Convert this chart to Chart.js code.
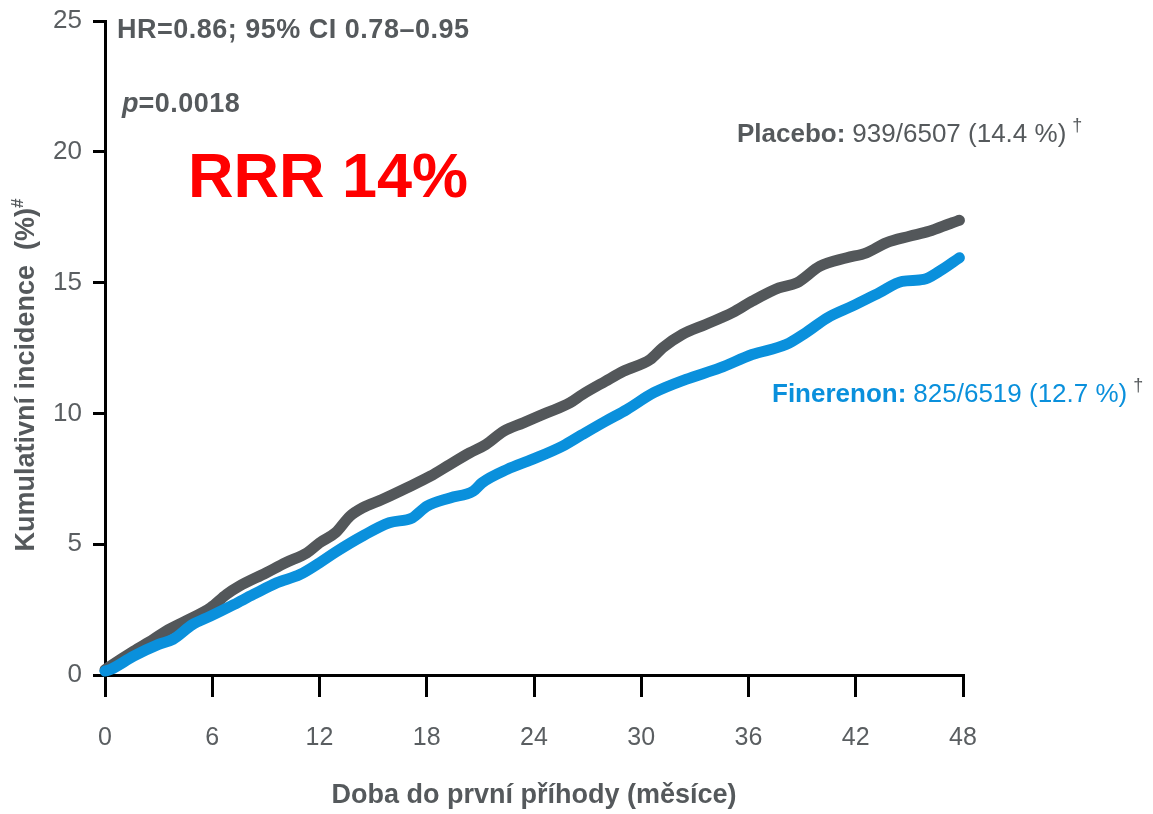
<!DOCTYPE html>
<html>
<head>
<meta charset="utf-8">
<script src="https://cdn.jsdelivr.net/npm/chart.js@4.4.1/dist/chart.umd.min.js"></script>
<style>
  html, body { margin: 0; padding: 0; background: #ffffff; }
  #wrap { width: 1153px; height: 814px; position: relative; }
</style>
</head>
<body>
<div id="wrap"><canvas id="chart"></canvas></div>
<script>
// months on the x axis
const xTicks = [0, 6, 12, 18, 24, 30, 36, 42, 48];
const yTicks = [0, 5, 10, 15, 20, 25];

// Placebo
const placeboMonths = [0, 0.3, 1.6, 2.7, 3.4, 4.5, 5.9, 6.8, 7.5, 9.0, 10.1, 11.3, 12.0, 12.9, 13.7, 14.4, 15.5, 16.9, 18.2, 19.3, 20.4, 21.3, 22.3, 23.4, 24.7, 26.0, 26.7, 28.0, 29.0, 30.5, 31.2, 32.3, 33.6, 35.1, 36.2, 37.7, 38.7, 40.0, 41.5, 42.6, 43.7, 45.0, 46.1, 47.4, 47.8];
const placeboValues = [0.2, 0.34, 0.91, 1.36, 1.67, 2.06, 2.57, 3.08, 3.39, 3.9, 4.29, 4.67, 5.05, 5.44, 6.07, 6.39, 6.71, 7.16, 7.6, 8.05, 8.49, 8.81, 9.32, 9.64, 10.02, 10.4, 10.72, 11.23, 11.61, 12.06, 12.51, 13.02, 13.4, 13.85, 14.29, 14.8, 14.99, 15.63, 15.95, 16.14, 16.52, 16.77, 16.96, 17.29, 17.38];

// Finerenon
const fineMonths = [0, 0.3, 1.6, 3.0, 3.8, 4.9, 5.9, 7.2, 8.3, 9.6, 10.9, 12.0, 12.9, 14.4, 15.9, 17.2, 18.0, 19.3, 20.6, 21.1, 22.5, 23.9, 25.6, 26.7, 28.0, 29.2, 30.7, 32.5, 34.4, 36.2, 38.1, 39.2, 40.4, 41.8, 43.3, 44.6, 45.8, 46.7, 47.8];
const fineValues = [0.15, 0.21, 0.72, 1.17, 1.36, 1.93, 2.25, 2.69, 3.08, 3.52, 3.84, 4.29, 4.7, 5.31, 5.82, 6.01, 6.45, 6.77, 7.03, 7.35, 7.86, 8.24, 8.75, 9.19, 9.7, 10.15, 10.79, 11.3, 11.74, 12.25, 12.63, 13.08, 13.65, 14.1, 14.61, 15.05, 15.12, 15.44, 15.95];

const GRAY = "#53575a";
const BLUE = "#0a90dc";
const TEXT = "#55595c";
const FONT = "'Liberation Sans', Arial, sans-serif";

const toPoints = (xs, ys) => xs.map((x, i) => ({ x, y: ys[i] }));

// draws a row of text pieces one after another
function drawRuns(ctx, x, y, runs) {
  let cx = x;
  runs.forEach((r) => {
    ctx.font = r.font;
    ctx.fillStyle = r.color;
    ctx.letterSpacing = r.spacing || "0px";
    ctx.fillText(r.text, cx, y + (r.dy || 0));
    cx += ctx.measureText(r.text).width + (r.gap || 0);
  });
  ctx.letterSpacing = "0px";
}

const annotations = {
  id: "annotations",
  afterDraw(chart) {
    const ctx = chart.ctx;
    ctx.save();
    ctx.textAlign = "left";
    ctx.textBaseline = "alphabetic";

    drawRuns(ctx, 117, 38, [
      { text: "HR=0.86; 95% CI 0.78\u20130.95", font: `bold 27px ${FONT}`, color: TEXT, spacing: "0.5px" },
    ]);
    drawRuns(ctx, 122, 112, [
      { text: "p", font: `italic bold 27px ${FONT}`, color: TEXT },
      { text: "=0.0018", font: `bold 27px ${FONT}`, color: TEXT, spacing: "0.5px" },
    ]);
    drawRuns(ctx, 188, 197, [
      { text: "RRR 14%", font: `bold 63px ${FONT}`, color: "#ff0000" },
    ]);

    drawRuns(ctx, 737, 142, [
      { text: "Placebo:", font: `bold 26px ${FONT}`, color: TEXT, gap: 7 },
      { text: "939/6507 (14.4 %)", font: `26px ${FONT}`, color: TEXT, gap: 6 },
      { text: "\u2020", font: `18px ${FONT}`, color: TEXT, dy: -11 },
    ]);
    drawRuns(ctx, 772, 402, [
      { text: "Finerenon:", font: `bold 26px ${FONT}`, color: BLUE, gap: 7 },
      { text: "825/6519 (12.7 %)", font: `26px ${FONT}`, color: BLUE, gap: 6 },
      { text: "\u2020", font: `18px ${FONT}`, color: TEXT, dy: -11 },
    ]);

    // y axis title, rotated
    ctx.translate(34, 375);
    ctx.rotate(-Math.PI / 2);
    ctx.font = `bold 27px ${FONT}`;
    const main = "Kumulativn\u00ed incidence  (%)";
    const w = ctx.measureText(main).width;
    ctx.font = `bold 17px ${FONT}`;
    const ws = ctx.measureText("#").width;
    const start = -(w + ws) / 2;
    drawRuns(ctx, start, 0, [
      { text: main, font: `bold 27px ${FONT}`, color: TEXT },
      { text: "#", font: `bold 17px ${FONT}`, color: TEXT, dy: -11 },
    ]);
    ctx.restore();
  },
};

const lineStyle = {
  borderWidth: 11,
  borderCapStyle: "round",
  borderJoinStyle: "round",
  pointRadius: 0,
  cubicInterpolationMode: "monotone",
  clip: false,
};

new Chart(document.getElementById("chart"), {
  type: "line",
  data: {
    datasets: [
      {
        label: "Finerenon",
        data: toPoints(fineMonths, fineValues),
        borderColor: BLUE,
        ...lineStyle,
      },
      {
        label: "Placebo",
        data: toPoints(placeboMonths, placeboValues),
        borderColor: GRAY,
        ...lineStyle,
      },
    ],
  },
  options: {
    responsive: true,
    maintainAspectRatio: false,
    animation: false,
    layout: { padding: { left: 0, right: 190, top: 21, bottom: 0 } },
    plugins: {
      legend: { display: false },
      tooltip: { enabled: false },
    },
    scales: {
      x: {
        type: "linear",
        min: 0,
        max: 48,
        afterBuildTicks: (s) => { s.ticks = xTicks.map((v) => ({ value: v })); },
        afterFit: (s) => { s.height = 139; },
        ticks: {
          color: "#5a5e61",
          padding: 26,
          maxRotation: 0,
          font: { family: FONT, size: 25 },
        },
        grid: {
          drawOnChartArea: false,
          drawTicks: true,
          tickLength: 22,
          color: "#000000",
          lineWidth: 3,
        },
        border: { color: "#000000", width: 3 },
        title: {
          display: true,
          text: "Doba do prvn\u00ed p\u0159\u00edhody (m\u011bs\u00edce)",
          color: TEXT,
          font: { family: FONT, size: 27, weight: "bold" },
          padding: { top: 4, bottom: 2 },
        },
      },
      y: {
        min: 0,
        max: 25,
        afterBuildTicks: (s) => { s.ticks = yTicks.map((v) => ({ value: v })); },
        afterFit: (s) => {
          s.width = 105;
          s.paddingTop = 0;
          s.paddingBottom = 0;
        },
        ticks: {
          color: "#5a5e61",
          padding: 11,
          font: { family: FONT, size: 26 },
        },
        grid: {
          drawOnChartArea: false,
          drawTicks: true,
          tickLength: 12,
          color: "#000000",
          lineWidth: 3,
        },
        border: { color: "#000000", width: 3 },
      },
    },
  },
  plugins: [annotations],
});
</script>
</body>
</html>
